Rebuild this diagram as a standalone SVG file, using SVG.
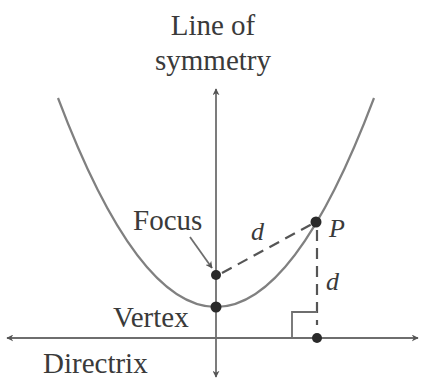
<svg xmlns="http://www.w3.org/2000/svg" width="422" height="379" viewBox="0 0 422 379">
  <style>
    .lbl { font-family: "Liberation Serif", "Times New Roman", serif; font-size: 29px; fill: #3a3a3a; }
    .it { font-family: "Liberation Serif", "Times New Roman", serif; font-style: italic; font-size: 26px; fill: #3a3a3a; }
    .curve { fill: none; stroke: #808080; stroke-width: 2.2; }
    .axis { fill: none; stroke: #6e6e6e; stroke-width: 1.8; }
    .dash { fill: none; stroke: #555; stroke-width: 2.2; stroke-dasharray: 11 7; }
    .dot { fill: #2a2a2a; }
  </style>
  <defs>
    <marker id="ah" viewBox="0 0 10 10" refX="9" refY="5" markerWidth="7" markerHeight="7" orient="auto-start-reverse" markerUnits="userSpaceOnUse">
      <path d="M0,0 L10,5 L0,10 L3,5 Z" fill="#555"/>
    </marker>
  </defs>
  <rect width="422" height="379" fill="#ffffff"/>

  <g id="connectors">
    <path id="parabola" class="curve" d="M58,98 Q216,516 374,98"/>
    <line id="axis-of-symmetry" class="axis" x1="216" y1="89" x2="216" y2="377" marker-start="url(#ah)" marker-end="url(#ah)"/>
    <line id="directrix-line" class="axis" x1="7" y1="338" x2="418" y2="338" marker-start="url(#ah)" marker-end="url(#ah)"/>
    <line id="focus-to-p" class="dash" x1="222" y1="273" x2="312" y2="224"/>
    <line id="p-to-directrix" class="dash" x1="317" y1="230" x2="317" y2="325" stroke-dasharray="13 9"/>
    <path id="right-angle" class="axis" d="M292,338 V312 H317"/>
    <line id="focus-pointer" class="axis" x1="190" y1="237" x2="212" y2="268" marker-end="url(#ah)"/>
  </g>

  <g id="title">
    <text class="lbl" x="213" y="35" text-anchor="middle">Line of</text>
    <text class="lbl" x="213" y="70" text-anchor="middle">symmetry</text>
  </g>

  <g id="focus">
    <circle class="dot" cx="216" cy="275" r="5"/>
    <text class="lbl" x="133" y="230">Focus</text>
  </g>

  <g id="vertex">
    <circle class="dot" cx="216" cy="307" r="5.5"/>
    <text class="lbl" x="113" y="327">Vertex</text>
  </g>

  <g id="point-p">
    <circle class="dot" cx="316" cy="222" r="5.5"/>
    <text class="it" x="329" y="237">P</text>
  </g>

  <g id="foot">
    <circle class="dot" cx="317" cy="338" r="5"/>
  </g>

  <g id="distance-labels">
    <text class="it" x="251" y="240">d</text>
    <text class="it" x="326" y="290">d</text>
  </g>

  <g id="directrix">
    <text class="lbl" x="43" y="373">Directrix</text>
  </g>
</svg>
